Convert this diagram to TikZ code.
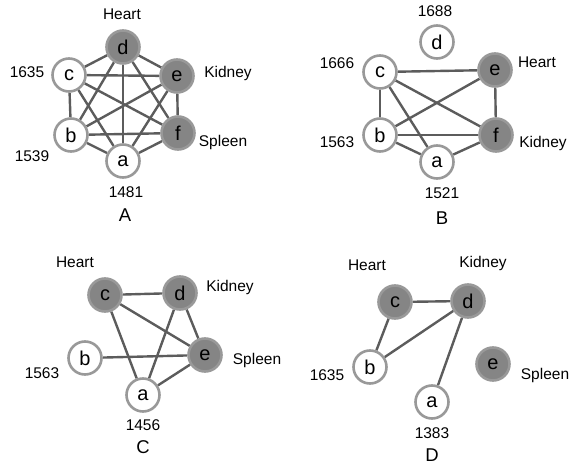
\documentclass[tikz,border=0pt]{standalone}
\usepackage{fontspec}
\setmainfont{Liberation Sans}
\pgfdeclarelayer{back}
\pgfsetlayers{back,main}

\begin{document}
\begin{tikzpicture}[
    x=1pt, y=-1pt,
    vertex/.style={
        circle,
        draw=black!40,
        line width=2.6pt,
        minimum size=33pt,
        inner sep=0pt,
        fill=white,
        font=\fontsize{20}{22}\selectfont
    },
    organ/.style={vertex, fill=black!48},
    link/.style={draw=black!64, line width=2.4pt},
    tag/.style={font=\fontsize{15.5}{17}\selectfont, inner sep=0pt},
    panel/.style={font=\fontsize{18.5}{20}\selectfont, inner sep=0pt}
]
\useasboundingbox (0,0) rectangle (579,471);

% panel A
\node[organ]  (Ad) at (123,47)  {d};
\node[vertex] (Ac) at (69,75)   {c};
\node[organ]  (Ae) at (177,76)  {e};
\node[vertex] (Ab) at (71,135)  {b};
\node[organ]  (Af) at (178,133) {f};
\node[vertex] (Aa) at (123,161) {a};
\node[tag] (AdT) at (122,14)  {Heart};
\node[tag] (AcT) at (27,72)   {1635};
\node[tag] (AeT) at (228,73)  {Kidney};
\node[tag] (AfT) at (223,142) {Spleen};
\node[tag] (AbT) at (32,156)  {1539};
\node[tag] (AaT) at (126,192) {1481};
\node[panel] (Alab) at (125,215) {A};

% panel B
\node[vertex] (Bd) at (437,42)  {d};
\node[vertex] (Bc) at (380,72)  {c};
\node[organ]  (Be) at (495,70)  {e};
\node[vertex] (Bb) at (380,135) {b};
\node[organ]  (Bf) at (496,135) {f};
\node[vertex] (Ba) at (437,162) {a};
\node[tag] (BdT) at (435,11)  {1688};
\node[tag] (BcT) at (337,63)  {1666};
\node[tag] (BeT) at (537,62)  {Heart};
\node[tag] (BbT) at (337,142) {1563};
\node[tag] (BfT) at (543,143) {Kidney};
\node[tag] (BaT) at (442,193) {1521};
\node[panel] (Blab) at (442,218) {B};

% panel C
\node[organ]  (Cc) at (105,295) {c};
\node[organ]  (Cd) at (180,293) {d};
\node[organ]  (Ce) at (205,355) {e};
\node[vertex] (Cb) at (85,358)  {b};
\node[vertex] (Ca) at (143,395) {a};
\node[tag] (CcT) at (75,262)  {Heart};
\node[tag] (CdT) at (230,287) {Kidney};
\node[tag] (CeT) at (257,360) {Spleen};
\node[tag] (CbT) at (42,373)  {1563};
\node[tag] (CaT) at (143,425) {1456};
\node[panel] (Clab) at (143,447) {C};

% panel D
\node[organ]  (Dc) at (395,302) {c};
\node[organ]  (Dd) at (468,301) {d};
\node[vertex] (Db) at (370,367) {b};
\node[organ]  (De) at (493,364) {e};
\node[vertex] (Da) at (432,402) {a};
\node[tag] (DcT) at (367,265) {Heart};
\node[tag] (DdT) at (483,263) {Kidney};
\node[tag] (DeT) at (545,375) {Spleen};
\node[tag] (DbT) at (327,375) {1635};
\node[tag] (DaT) at (432,433) {1383};
\node[panel] (Dlab) at (432,455) {D};

\begin{pgfonlayer}{back}
\foreach \u/\v in {Ac/Ad, Ad/Ae, Ac/Ae, Ac/Ab, Ae/Af, Ab/Af, Ab/Aa, Aa/Af,
                   Ac/Af, Ab/Ae, Ad/Ab, Ad/Af, Ad/Aa, Ac/Aa, Ae/Aa}
    \draw[link] (\u) -- (\v);
\foreach \u/\v in {Bc/Be, Bc/Bb, Bc/Bf, Bc/Ba, Be/Bb, Be/Bf, Bb/Bf, Bb/Ba, Ba/Bf}
    \draw[link] (\u) -- (\v);
\foreach \u/\v in {Cc/Cd, Cc/Ce, Cc/Ca, Cd/Ce, Cd/Ca, Cb/Ce, Ca/Ce}
    \draw[link] (\u) -- (\v);
\foreach \u/\v in {Dc/Dd, Dc/Db, Dd/Db, Dd/Da}
    \draw[link] (\u) -- (\v);
\end{pgfonlayer}
\end{tikzpicture}
\end{document}
